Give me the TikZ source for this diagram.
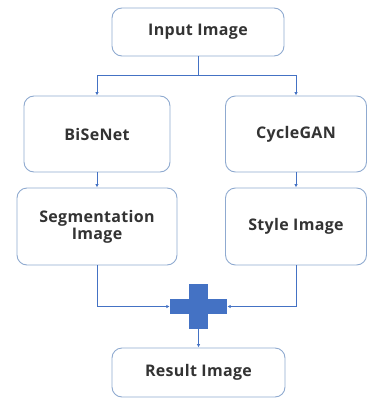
\documentclass[tikz,border=0pt]{standalone}
\usepackage{fontspec}
\setmainfont{Open Sans}[BoldFont={Open Sans Bold}, LetterSpace=2]
\usetikzlibrary{arrows.meta,calc}
\definecolor{boxline}{HTML}{8FAAD0}
\definecolor{flow}{HTML}{4472C4}
\definecolor{txt}{HTML}{333333}
\tikzset{
  stage/.style={draw=boxline, line width=0.9pt, rounded corners=10pt, fill=white,
    minimum width=#1, align=center, text=txt, font=\bfseries\fontsize{16}{18}\selectfont},
  link/.style={draw=flow, line width=0.8pt, -{Latex[length=3.5pt,width=3.5pt]}},
}
\begin{document}
\begin{tikzpicture}[x=1pt,y=-1pt]
\useasboundingbox (0,0) rectangle (367,399);
\node[stage=172pt, minimum height=48pt] (input) at (198,32) {Input Image};
\node[stage=146pt, minimum height=76pt] (bise) at (97,134) {BiSeNet};
\node[stage=141pt, minimum height=76pt] (cycle) at (296,134) {CycleGAN};
\node[stage=160pt, minimum height=77pt] (seg) at (97,226.5) {Segmentation\\[-1pt]Image};
\node[stage=141pt, minimum height=77pt] (style) at (296,226.5) {Style Image};
\node[stage=173pt, minimum height=49pt] (result) at (198.5,372.5) {Result Image};
% adder symbol
\node[minimum width=57pt, minimum height=45pt, inner sep=0pt] (plus) at (198.5,306.5) {};
\fill[flow] (189,284) rectangle (208,329);
\fill[flow] (170,299) rectangle (227,314);
% connectors
\coordinate (split) at ($(input.south)+(0,19)$);
\draw[link] (input.south) -- (split) -| (bise.north);
\draw[link] (split) -| (cycle.north);
\draw[link] (bise) -- (seg);
\draw[link] (cycle) -- (style);
\draw[link] (seg.south) |- (plus.west);
\draw[link] (style.south) |- (plus.east);
\draw[link] (plus.south) -- (result.north);
\end{tikzpicture}
\end{document}
